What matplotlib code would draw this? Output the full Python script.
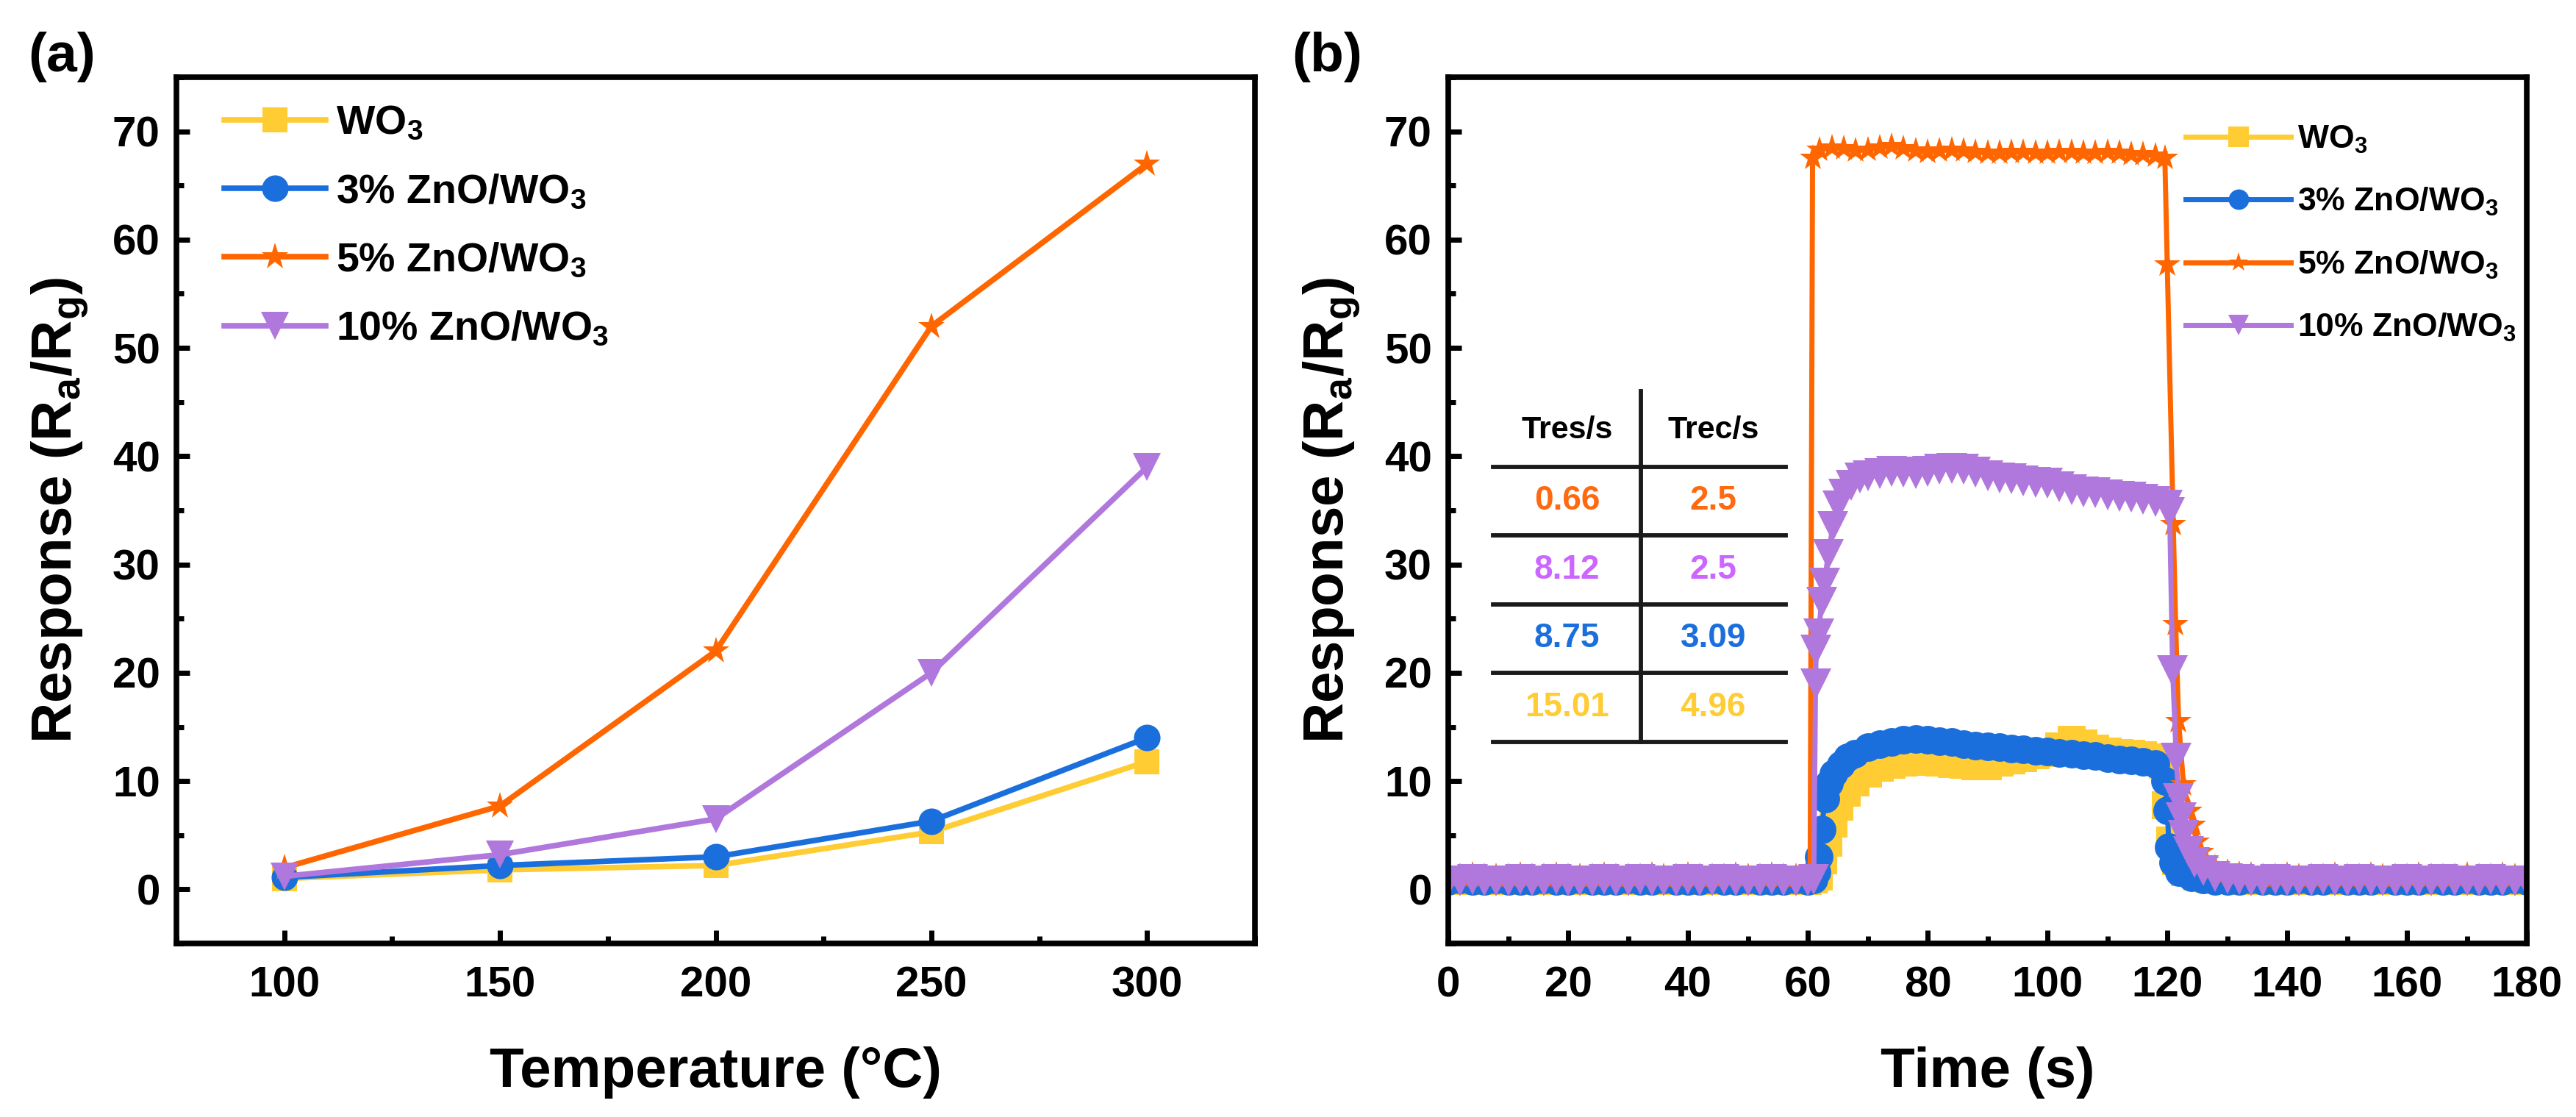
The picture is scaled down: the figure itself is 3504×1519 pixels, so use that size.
import matplotlib
matplotlib.use('Agg')
import matplotlib.pyplot as plt
from matplotlib.lines import Line2D
from matplotlib.ticker import MultipleLocator

plt.rcParams['font.family'] = ['Liberation Sans', 'DejaVu Sans']
plt.rcParams['font.weight'] = 'bold'
plt.rcParams['mathtext.fontset'] = 'custom'
plt.rcParams['mathtext.rm'] = 'Liberation Sans:bold'
plt.rcParams['mathtext.bf'] = 'Liberation Sans:bold'
plt.rcParams['mathtext.it'] = 'Liberation Sans:bold'
plt.rcParams['mathtext.default'] = 'bf'

# ---------------- data: panel (a) ----------------
temperature = [100, 150, 200, 250, 300]
resp_wo3 = [1.0, 1.8, 2.2, 5.3, 11.8]
resp_3zno = [1.1, 2.2, 3.0, 6.3, 14.0]
resp_5zno = [2.0, 7.7, 22.0, 52.0, 67.0]
resp_10zno = [1.2, 3.2, 6.5, 20.0, 39.0]

# ---------------- data: panel (b) ----------------
t_pre = [0, 2, 4, 6, 8, 10, 12, 14, 16, 18, 20, 22, 24, 26, 28, 30, 32, 34, 36, 38,
         40, 42, 44, 46, 48, 50, 52, 54, 56, 58, 60]
t_post = [130, 132, 134, 136, 138, 140, 142, 144, 146, 148, 150, 152, 154, 156, 158,
          160, 162, 164, 166, 168, 170, 172, 174, 176, 178, 180]

# WO3
wo3_pre = [0.8, 0.8, 0.9, 0.8, 0.8, 0.9, 0.8, 0.8, 0.8, 0.9, 0.8, 0.8, 0.9, 0.8, 0.8, 0.8,
           0.9, 0.8, 0.8, 0.8, 0.9, 0.8, 0.8, 0.8, 0.9, 0.8, 0.8, 0.8, 0.9, 0.8, 0.8]
wo3_t_mid = [61, 61.8, 62.6, 63.4, 64.3, 65.3, 66.5, 68,
             70, 72, 74, 76, 78, 80, 82, 84, 86, 88, 90, 92, 94, 96, 98, 100, 102, 104,
             106, 108, 110, 112, 114, 116, 118,
             119.3, 119.8, 120.5, 121.5, 123, 125, 127]
wo3_mid = [0.9, 1.2, 2.7, 4.3, 6.1, 7.6, 8.9, 9.9,
           10.7, 11.2, 11.5, 11.7, 11.8, 11.8, 11.7, 11.6, 11.5, 11.4, 11.4, 11.7, 11.9,
           12.1, 12.4, 12.6, 13.2, 13.8, 13.5, 13.0, 12.7, 12.6, 12.5, 12.4, 12.2,
           11.5, 7.8, 4.5, 2.6, 1.6, 1.2, 1.0]
wo3_post = [0.9, 0.8, 0.8, 0.9, 0.8, 0.8, 0.8, 0.9, 0.8, 0.8, 0.8, 0.9, 0.8,
            0.8, 0.8, 0.9, 0.8, 0.8, 0.8, 0.9, 0.8, 0.8, 0.8, 0.9, 0.8, 0.8]

# 3% ZnO/WO3
z3_pre = [0.8, 0.9, 0.8, 0.8, 0.9, 0.8, 0.8, 0.8, 0.9, 0.8, 0.8, 0.9, 0.8, 0.8, 0.8, 0.9,
          0.8, 0.8, 0.9, 0.8, 0.8, 0.8, 0.9, 0.8, 0.8, 0.9, 0.8, 0.8, 0.8, 0.9, 0.8]
z3_t_mid = [61, 61.5, 61.8, 62.3, 62.9, 63.5, 64.3, 65.5, 66.6, 67.8,
            70, 72, 74, 76, 78, 80, 82, 84, 86, 88, 90, 92, 94, 96, 98, 100, 102, 104,
            106, 108, 110, 112, 114, 116, 118,
            119.6, 120, 120.3, 121, 122, 124, 126, 128]
z3_mid = [0.9, 1.6, 3.0, 5.5, 8.4, 9.8, 10.7, 11.5, 12.2, 12.5,
          13.1, 13.4, 13.6, 13.8, 13.9, 13.8, 13.7, 13.6, 13.4, 13.3, 13.2, 13.1, 13.0,
          12.9, 12.8, 12.7, 12.6, 12.5, 12.4, 12.3, 12.1, 12.0, 11.9, 11.8, 11.6,
          10.0, 7.3, 3.9, 2.5, 1.6, 1.1, 0.9, 0.8]
z3_post = [0.8, 0.8, 0.9, 0.8, 0.8, 0.8, 0.9, 0.8, 0.8, 0.9, 0.8, 0.8, 0.8,
           0.9, 0.8, 0.8, 0.8, 0.9, 0.8, 0.8, 0.9, 0.8, 0.8, 0.8, 0.9, 0.8]

# 5% ZnO/WO3
z5_pre = [1.2, 1.2, 1.3, 1.2, 1.2, 1.2, 1.3, 1.2, 1.2, 1.3, 1.2, 1.2, 1.2, 1.3, 1.2, 1.2,
          1.2, 1.3, 1.2, 1.2, 1.3, 1.2, 1.2, 1.2, 1.3, 1.2, 1.2, 1.3, 1.2, 1.2, 1.2]
z5_t_mid = [60.4, 60.8,
            62, 64, 66, 68, 70, 72, 74, 76, 78, 80, 82, 84, 86, 88, 90, 92, 94, 96, 98,
            100, 102, 104, 106, 108, 110, 112, 114, 116, 118,
            119.6, 120.0, 121.0, 121.4, 121.9, 122.7, 123.7, 124.3, 124.9, 125.6, 126.5, 128]
z5_mid = [1.3, 67.5,
          68.3, 68.5, 68.4, 68.2, 68.3, 68.5, 68.6, 68.4, 68.2, 68.1, 68.2, 68.3, 68.2,
          68.1, 68.0, 68.0, 68.1, 68.1, 68.0, 68.0, 68.1, 68.1, 68.0, 68.0, 68.1, 68.0,
          67.9, 67.9, 67.7,
          67.5, 57.7, 33.7, 24.5, 15.5, 9.7, 7.2, 5.9, 4.4, 3.4, 2.6, 2.0]
z5_post = [1.6, 1.4, 1.3, 1.2, 1.2, 1.3, 1.2, 1.2, 1.2, 1.3, 1.2, 1.2, 1.3,
           1.2, 1.2, 1.2, 1.3, 1.2, 1.2, 1.2, 1.3, 1.2, 1.2, 1.3, 1.2, 1.2]

# 10% ZnO/WO3
z10_pre = [0.8, 0.8, 0.9, 0.8, 0.8, 0.8, 0.9, 0.8, 0.8, 0.9, 0.8, 0.8, 0.8, 0.9, 0.8, 0.8,
           0.9, 0.8, 0.8, 0.8, 0.9, 0.8, 0.8, 0.9, 0.8, 0.8, 0.8, 0.9, 0.8, 0.8, 0.8]
z10_t_mid = [61.0, 61.3, 61.4, 61.8, 62.3, 62.8, 63.4, 64.2, 65.0, 66.0, 67.3, 68.7,
             70, 72, 74, 76, 78, 80, 82, 84, 86, 88, 90, 92, 94, 96, 98, 100, 102, 104,
             106, 108, 110, 112, 114, 116, 118,
             120.0, 120.4, 120.9, 121.5, 121.9, 122.3, 122.7, 123.5, 124.5, 126, 128]
z10_mid = [0.9, 19.0, 22.1, 23.6, 26.5, 28.3, 30.9, 33.5, 35.4, 36.5, 37.3, 38.0,
           38.2, 38.4, 38.6, 38.5, 38.4, 38.6, 38.8, 38.9, 38.8, 38.5, 38.2, 38.0, 37.9,
           37.7, 37.6, 37.5, 37.2, 36.9, 36.7, 36.6, 36.4, 36.3, 36.2, 36.0, 35.8,
           35.5, 34.8, 20.2, 12.1, 8.4, 6.6, 5.0, 3.5, 2.5, 1.7, 1.2]
z10_post = [1.0, 0.9, 0.8, 0.8, 0.9, 0.8, 0.8, 0.8, 0.9, 0.8, 0.8, 0.9, 0.8,
            0.8, 0.8, 0.9, 0.8, 0.8, 0.9, 0.8, 0.8, 0.8, 0.9, 0.8, 0.8, 0.8]

labels = ['WO$_3$', '3% ZnO/WO$_3$', '5% ZnO/WO$_3$', '10% ZnO/WO$_3$']
colors = ['#FFCC33', '#1B6FDC', '#FF6600', '#B077DC']
markers = ['s', 'o', '*', 'v']

# table of response / recovery times
tab_header = ['Tres/s', 'Trec/s']
tab_tres = ['0.66', '8.12', '8.75', '15.01']
tab_trec = ['2.5', '2.5', '3.09', '4.96']
tab_colors = ['#FF6A10', '#CC66FF', '#1B6FDC', '#FFCC33']

# ---------------- figure ----------------
W, H = 3504, 1519
fig = plt.figure(figsize=(W / 100, H / 100), dpi=100)
axa = fig.add_axes([240 / W, 1 - 1283 / H, 1467 / W, 1178 / H])
axb = fig.add_axes([1970 / W, 1 - 1283 / H, 1467 / W, 1178 / H])


def style(ax):
    for s in ax.spines.values():
        s.set_linewidth(5.5)
    ax.tick_params(which='both', direction='in', top=False, right=False,
                   labelsize=42, width=5.0)
    ax.tick_params(which='major', length=13)
    ax.tick_params(which='minor', length=7)
    ax.tick_params(axis='x', pad=22)
    ax.tick_params(axis='y', pad=16)
    for lab in ax.get_xticklabels() + ax.get_yticklabels():
        lab.set_fontweight('bold')


# ----- panel (a) -----
series_a = [resp_wo3, resp_3zno, resp_5zno, resp_10zno]
msz_a = [25, 26, 28, 28]
for vals, c, m, ms, lab in zip(series_a, colors, markers, msz_a, labels):
    axa.plot(temperature, vals, color=c, marker=m, markersize=ms, lw=5.5,
             markeredgewidth=0, label=lab)
axa.set_xlim(75, 325)
axa.set_ylim(-5, 75)
axa.xaxis.set_major_locator(MultipleLocator(50))
axa.xaxis.set_minor_locator(MultipleLocator(25))
axa.yaxis.set_major_locator(MultipleLocator(10))
axa.yaxis.set_minor_locator(MultipleLocator(5))
style(axa)
axa.set_xlabel('Temperature (°C)', fontsize=55, fontweight='bold', labelpad=40)
axa.set_ylabel('Response (R$_a$/R$_g$)', fontsize=55, fontweight='bold', labelpad=22)
axa.legend(loc='upper left', bbox_to_anchor=(0.044, 0.968), frameon=False,
           fontsize=40, handlelength=2.5, handletextpad=0.25, labelspacing=0.74,
           borderaxespad=0, borderpad=0)

# ----- panel (b) -----
ts_b = [t_pre + wo3_t_mid + t_post, t_pre + z3_t_mid + t_post,
        t_pre + z5_t_mid + t_post, t_pre + z10_t_mid + t_post]
vs_b = [wo3_pre + wo3_mid + wo3_post, z3_pre + z3_mid + z3_post,
        z5_pre + z5_mid + z5_post, z10_pre + z10_mid + z10_post]
msz_b = [27, 28, 27, 30]
for tt, vv, c, m, ms in zip(ts_b, vs_b, colors, markers, msz_b):
    axb.plot(tt, vv, color=c, marker=m, markersize=ms, lw=5, markeredgewidth=0)
axb.set_xlim(0, 180)
axb.set_ylim(-5, 75)
axb.xaxis.set_major_locator(MultipleLocator(20))
axb.xaxis.set_minor_locator(MultipleLocator(10))
axb.yaxis.set_major_locator(MultipleLocator(10))
axb.yaxis.set_minor_locator(MultipleLocator(5))
style(axb)
axb.set_xlabel('Time (s)', fontsize=55, fontweight='bold', labelpad=40)
axb.set_ylabel('Response (R$_a$/R$_g$)', fontsize=55, fontweight='bold', labelpad=22)
handles_b = [Line2D([], [], color=c, marker=m, markersize=20, lw=5, markeredgewidth=0)
             for c, m in zip(colors, markers)]
axb.legend(handles_b, labels, loc='upper left', bbox_to_anchor=(0.684, 0.946),
           frameon=False, fontsize=32, handlelength=3.2, handletextpad=0.2,
           labelspacing=0.95, borderaxespad=0, borderpad=0)

# table drawn in data coordinates of panel (b)
tab_x = [7.5, 32.1, 56.3]
tab_rows = [39.0, 32.7, 26.3, 20.0, 13.6]
tab_vtop = 46.0
for yy in tab_rows:
    axb.plot([tab_x[0], tab_x[2]], [yy, yy], color='#1a1a1a', lw=4.2, zorder=5)
axb.plot([tab_x[1], tab_x[1]], [tab_rows[-1], tab_vtop], color='#1a1a1a', lw=4.2, zorder=5)
cx = [(tab_x[0] + tab_x[1]) / 2, (tab_x[1] + tab_x[2]) / 2]
for j, h in enumerate(tab_header):
    axb.text(cx[j], 42.4, h, ha='center', va='center', fontsize=31,
             fontweight='bold', zorder=6)
for i in range(4):
    ymid = (tab_rows[i] + tab_rows[i + 1]) / 2
    axb.text(cx[0], ymid, tab_tres[i], ha='center', va='center', fontsize=33,
             fontweight='bold', color=tab_colors[i], zorder=6)
    axb.text(cx[1], ymid, tab_trec[i], ha='center', va='center', fontsize=33,
             fontweight='bold', color=tab_colors[i], zorder=6)

fig.text(38 / W, 1 - 78 / H, '(a)', fontsize=54, fontweight='bold', va='center', ha='left')
fig.text(1757 / W, 1 - 78 / H, '(b)', fontsize=54, fontweight='bold', va='center', ha='left')

fig.savefig('out.png', dpi=100)
